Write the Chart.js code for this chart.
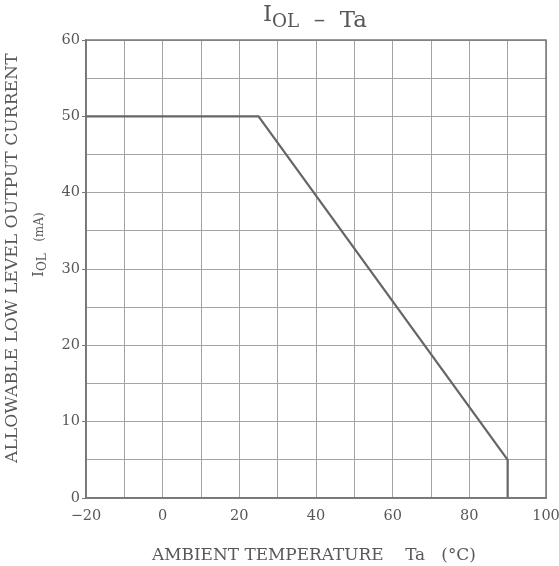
<!DOCTYPE html>
<html><head><meta charset="utf-8">
<script src="https://cdn.jsdelivr.net/npm/chart.js@4"></script>
<style>html,body{margin:0;padding:0;background:#fff}#wrap{width:559px;height:566px}</style>
</head><body><div id="wrap"><canvas id="c" width="559" height="566"></canvas></div>
<script>
const tempX = [-20, 25, 90, 90];
const currentY = [50, 50, 5, 0];
const xTickLabels = [-20, 0, 20, 40, 60, 80, 100];
const yTickLabels = [0, 10, 20, 30, 40, 50, 60];

const FONT = "'DejaVu Serif','Liberation Serif',serif";
const TXT = '#585858';

function fitSize(ctx, text, target) {
  ctx.font = '100px ' + FONT;
  return 100 * target / ctx.measureText(text).width;
}

const titles = {
  id: 'titles',
  afterDraw(chart) {
    const ctx = chart.ctx;
    ctx.save();
    ctx.fillStyle = TXT;
    ctx.textBaseline = 'alphabetic';
    ctx.textAlign = 'left';
    // main title I_OL - Ta
    const big = 20, small = 16;
    ctx.font = big + 'px ' + FONT; const w1 = ctx.measureText('I').width;
    ctx.font = small + 'px ' + FONT; const w2 = ctx.measureText('OL').width;
    ctx.font = big + 'px ' + FONT; const w3 = ctx.measureText('  \u2013  Ta').width;
    const sc = 104 / (w1 + w2 + w3);
    let x = 263;
    ctx.font = (big * sc) + 'px ' + FONT; ctx.fillText('I', x, 21); x += w1 * sc;
    ctx.font = (small * sc) + 'px ' + FONT; ctx.fillText('OL', x, 27); x += w2 * sc;
    ctx.font = (big * sc) + 'px ' + FONT; ctx.fillText('  \u2013  Ta', x, 27);
    // x axis title
    const xt = 'AMBIENT TEMPERATURE    Ta   (\u00B0C)';
    const xs = fitSize(ctx, xt, 324);
    ctx.font = xs + 'px ' + FONT;
    ctx.fillText(xt, 152, 560);
    // y axis title line 1
    const yt = 'ALLOWABLE LOW LEVEL OUTPUT CURRENT';
    const ys = fitSize(ctx, yt, 410);
    ctx.save();
    ctx.translate(17, 463); ctx.rotate(-Math.PI / 2);
    ctx.font = ys + 'px ' + FONT;
    ctx.fillText(yt, 0, 0);
    ctx.restore();
    // y axis title line 2
    ctx.save();
    ctx.translate(43, 277); ctx.rotate(-Math.PI / 2);
    ctx.font = '15px ' + FONT; ctx.fillText('I', 0, 0);
    let xx = ctx.measureText('I').width;
    ctx.font = '12px ' + FONT; ctx.fillText('OL', xx, 3); xx += ctx.measureText('OL').width;
    ctx.font = '12px ' + FONT; ctx.fillText('   (mA)', xx, 0);
    ctx.restore();
    ctx.restore();
  }
};

new Chart(document.getElementById('c'), {
  type: 'scatter',
  data: {
    datasets: [{
      data: tempX.map((v, i) => ({ x: v, y: currentY[i] })),
      showLine: true,
      borderColor: '#666',
      borderWidth: 2.2,
      pointRadius: 0,
      fill: false,
      tension: 0
    }]
  },
  options: {
    responsive: false,
    animation: false,
    devicePixelRatio: 1,
    layout: { padding: { left: 0, right: 13, top: 40, bottom: 0 } },
    plugins: { legend: { display: false }, tooltip: { enabled: false }, title: { display: false } },
    scales: {
      x: {
        type: 'linear', min: -20, max: 100,
        afterFit(s) { s.height = 68; s.paddingLeft = 0; s.paddingRight = 0; },
        afterBuildTicks(s) { s.ticks = []; for (let v = -20; v <= 100; v += 10) s.ticks.push({ value: v }); },
        ticks: {
          color: TXT, font: { family: FONT, size: 14.5 }, padding: 10, maxRotation: 0, autoSkip: false,
          callback: (v) => xTickLabels.includes(v) ? (v < 0 ? '\u2212' + Math.abs(v) : String(v)) : ''
        },
        grid: { color: '#a4a4a4', lineWidth: 1, tickLength: 0, drawTicks: false },
        border: { color: '#777', width: 1.5 }
      },
      y: {
        type: 'linear', min: 0, max: 60,
        afterFit(s) { s.width = 86; s.paddingTop = 0; s.paddingBottom = 0; },
        afterBuildTicks(s) { s.ticks = []; for (let v = 0; v <= 60; v += 5) s.ticks.push({ value: v }); },
        ticks: {
          color: TXT, font: { family: FONT, size: 14.5 }, padding: 2, autoSkip: false,
          callback: (v) => yTickLabels.includes(v) ? String(v) : ''
        },
        grid: { color: '#a4a4a4', lineWidth: 1, tickLength: 4,
          tickColor: (c) => (c.tick && c.tick.value % 10 === 0) ? '#777' : 'rgba(0,0,0,0)' },
        border: { color: '#777', width: 1.5 }
      }
    }
  },
  plugins: [titles, {
    id: 'frame',
    afterDatasetsDraw(chart) {
      const ctx = chart.ctx, a = chart.chartArea;
      ctx.save(); ctx.strokeStyle = '#777'; ctx.lineWidth = 1.5;
      ctx.strokeRect(a.left, a.top, a.right - a.left, a.bottom - a.top);
      ctx.restore();
    }
  }]
});
</script></body></html>
